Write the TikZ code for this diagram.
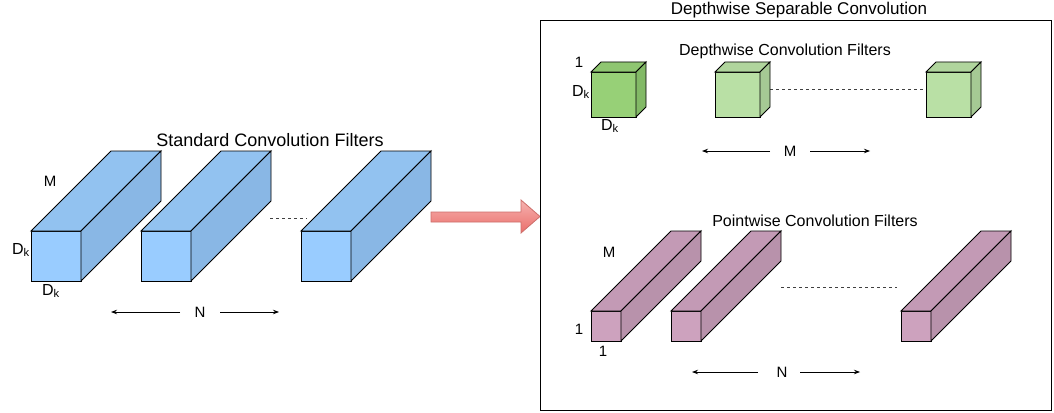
\documentclass[tikz,border=0pt]{standalone}
\usepackage{fontspec}
\setmainfont{Liberation Sans}
\usetikzlibrary{arrows.meta}
\definecolor{blueF}{RGB}{153,204,255}
\definecolor{blueT}{RGB}{146,194,240}
\definecolor{blueS}{RGB}{137,183,229}
\definecolor{dgreenF}{RGB}{151,208,119}
\definecolor{dgreenT}{RGB}{143,198,113}
\definecolor{dgreenS}{RGB}{130,185,102}
\definecolor{lgreenF}{RGB}{185,224,165}
\definecolor{lgreenT}{RGB}{176,213,157}
\definecolor{lgreenS}{RGB}{165,201,148}
\definecolor{purpF}{RGB}{205,162,190}
\definecolor{purpT}{RGB}{195,154,181}
\definecolor{purpS}{RGB}{184,146,171}
\definecolor{redTop}{RGB}{246,178,176}
\definecolor{redBot}{RGB}{234,110,106}
\definecolor{redEdge}{RGB}{205,110,106}
\newcommand\drawcuboid[6]{%
  \coordinate (#1) at (#2,#3);
  \filldraw[cubeedge, fill=#6F] (#2,#3) rectangle ++(#4,#4);
  \filldraw[cubeedge, fill=#6T] (#2,#3) -- ++(#5,-#5) -- ++(#4,0) -- ++(-#5,#5) -- cycle;
  \filldraw[cubeedge, fill=#6S] (#2+#4,#3) -- ++(#5,-#5) -- ++(0,#4) -- ++(-#5,#5) -- cycle;
}
\begin{document}
\begin{tikzpicture}[x=1pt,y=-1pt,
  cubeedge/.style={draw=black, line width=0.9pt, line join=miter},
  dotline/.style={draw=black!75, line width=0.8pt, dash pattern=on 3pt off 3pt},
  dimarrow/.style={draw=black, line width=0.8pt, -{Stealth[length=6pt,width=4.5pt]}},
  lab/.style={inner sep=0pt, font=\fontsize{15}{18}\selectfont},
  title/.style={inner sep=0pt, font=\fontsize{17}{20}\selectfont},
  subtitle/.style={inner sep=0pt, font=\fontsize{16}{19}\selectfont}]
\useasboundingbox (0,0) rectangle (1054,412);
\fill[white] (0,0) rectangle (1054,412);

% ---------- standard convolution ----------
\node[title, font=\fontsize{18}{21}\selectfont] (stdtitle) at (270,140) {Standard Convolution Filters};
\drawcuboid{s1}{31}{231}{50}{80}{blue}
\drawcuboid{s2}{141}{231}{50}{80}{blue}
\drawcuboid{s3}{301}{231}{50}{80}{blue}
\coordinate (sdA) at (270,218);
\coordinate (sdB) at (307,218);
\draw[dotline] (sdA) -- (sdB);
\node[lab] (sM) at (50,181) {M};
\node[lab, font=\fontsize{16}{19}\selectfont] (sDk1) at (21,250) {D\textsubscript{k}};
\node[lab, font=\fontsize{16}{19}\selectfont] (sDk2) at (51,291) {D\textsubscript{k}};
\node[lab] (sN) at (200,312) {N};
\coordinate (sNl) at (111,312);
\coordinate (sNr) at (279,312);
\draw[dimarrow] ([xshift=-20pt]sN.center) -- (sNl);
\draw[dimarrow] ([xshift=20pt]sN.center) -- (sNr);

% ---------- big arrow ----------
\node[inner sep=0pt] (bigarrow) at (485,216.5) {};
\draw[redEdge, line width=0.8pt, top color=redTop, bottom color=redBot]
  (431,212) -- (521,212) -- (521,200) -- (540,216.5) -- (521,233) -- (521,222) -- (431,222) -- cycle;

% ---------- depthwise separable box ----------
\node[title] (dstitle) at (799,10) {Depthwise Separable Convolution};
\draw[black, line width=1pt] (540,21) rectangle (1051,410);

% depthwise
\node[subtitle] (dwtitle) at (785,51) {Depthwise Convolution Filters};
\coordinate (dwA) at (770,89);
\coordinate (dwB) at (928,89);
\draw[dotline] (dwA) -- (dwB);
\drawcuboid{d1}{591}{72}{45}{10}{dgreen}
\drawcuboid{d2}{715}{72}{45}{10}{lgreen}
\drawcuboid{d3}{926}{72}{45}{10}{lgreen}
\node[lab] (d1one) at (579,62) {1};
\node[lab, font=\fontsize{16}{19}\selectfont] (dDk1) at (581,92) {D\textsubscript{k}};
\node[lab, font=\fontsize{16}{19}\selectfont] (dDk2) at (610,126) {D\textsubscript{k}};
\node[lab] (dM) at (790,151) {M};
\coordinate (dMl) at (702,151);
\coordinate (dMr) at (870,151);
\draw[dimarrow] ([xshift=-20pt]dM.center) -- (dMl);
\draw[dimarrow] ([xshift=20pt]dM.center) -- (dMr);

% pointwise
\node[subtitle] (pwtitle) at (815,221) {Pointwise Convolution Filters};
\drawcuboid{p1}{591}{311}{30}{80}{purp}
\drawcuboid{p2}{671}{311}{30}{80}{purp}
\drawcuboid{p3}{901}{311}{30}{80}{purp}
\coordinate (pwA) at (781,287);
\coordinate (pwB) at (897,287);
\draw[dotline] (pwA) -- (pwB);
\node[lab] (pM) at (609,252) {M};
\node[lab] (p1a) at (579,329) {1};
\node[lab] (p1b) at (603,351) {1};
\node[lab] (pN) at (782,372) {N};
\coordinate (pNl) at (692,372);
\coordinate (pNr) at (860,372);
\draw[dimarrow] ([xshift=-24pt]pN.center) -- (pNl);
\draw[dimarrow] ([xshift=18pt]pN.center) -- (pNr);
\end{tikzpicture}
\end{document}
